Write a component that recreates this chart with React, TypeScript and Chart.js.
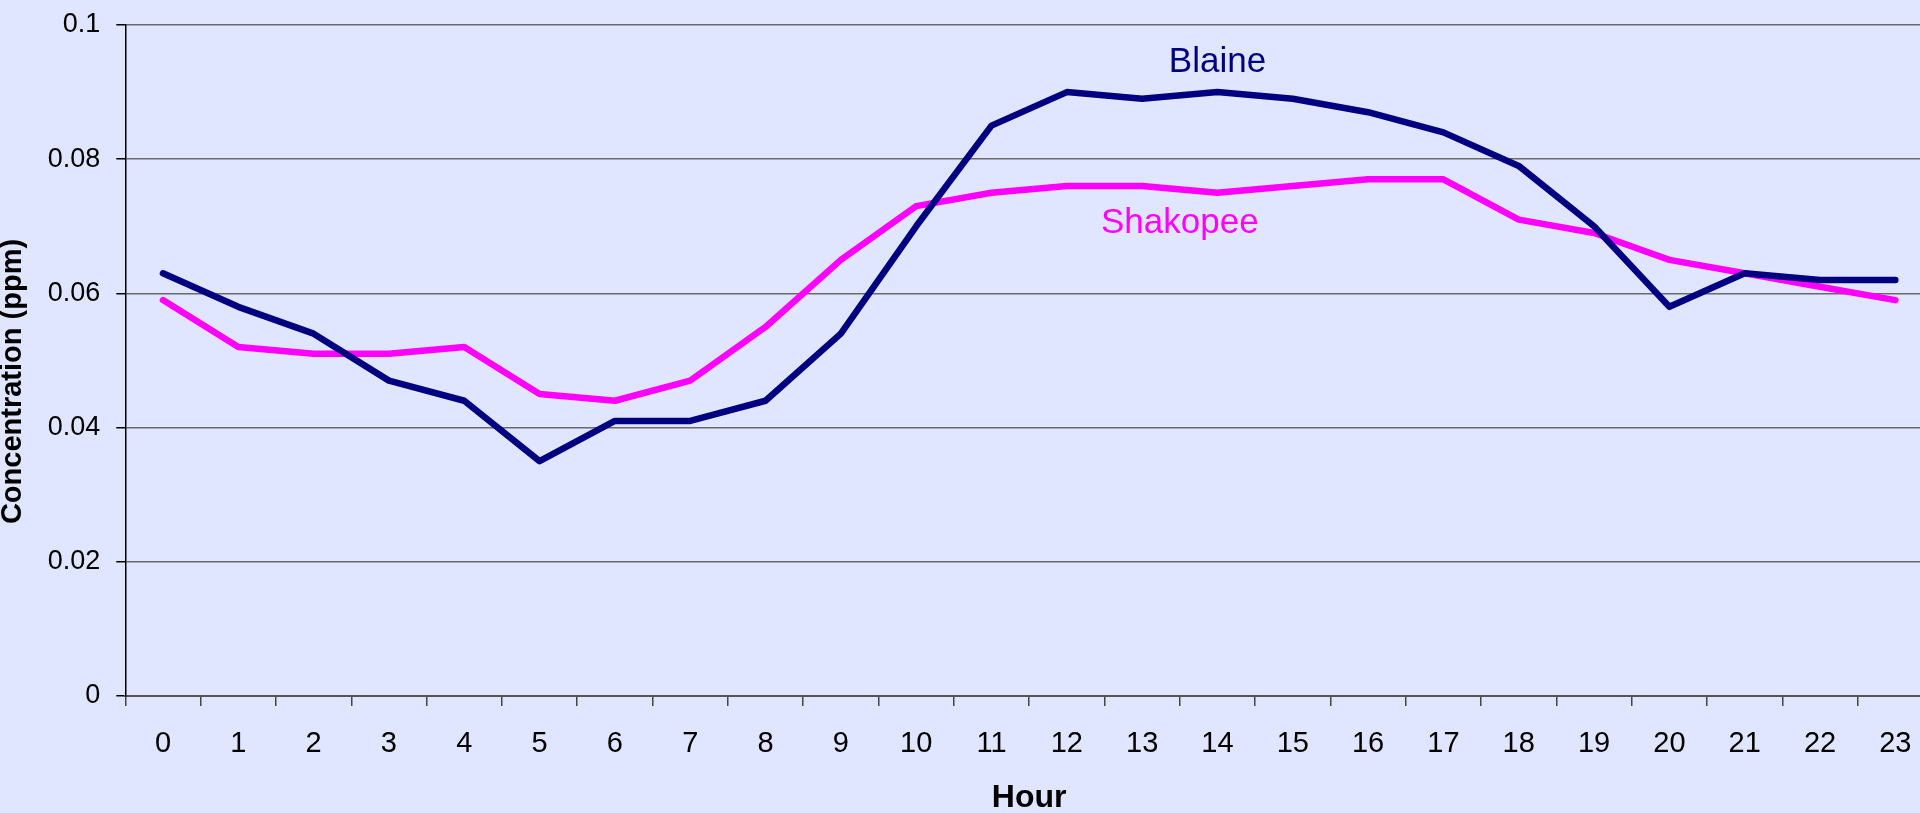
import React, { useEffect, useRef } from "react";
import { Chart, registerables } from "chart.js";

Chart.register(...registerables);

const hours: string[] = [
  "0", "1", "2", "3", "4", "5", "6", "7", "8", "9", "10", "11",
  "12", "13", "14", "15", "16", "17", "18", "19", "20", "21", "22", "23",
];

const blaine: number[] = [
  0.063, 0.058, 0.054, 0.047, 0.044, 0.035, 0.041, 0.041, 0.044, 0.054, 0.070, 0.085,
  0.090, 0.089, 0.090, 0.089, 0.087, 0.084, 0.079, 0.070, 0.058, 0.063, 0.062, 0.062,
];

const shakopee: number[] = [
  0.059, 0.052, 0.051, 0.051, 0.052, 0.045, 0.044, 0.047, 0.055, 0.065, 0.073, 0.075,
  0.076, 0.076, 0.075, 0.076, 0.077, 0.077, 0.071, 0.069, 0.065, 0.063, 0.061, 0.059,
];

const yTicks: number[] = [0, 0.02, 0.04, 0.06, 0.08, 0.1];

const seriesNames: string[] = ["Blaine", "Shakopee"];
const seriesColors: string[] = ["#000080", "#FF00FF"];
// label anchor positions, in data coordinates (category index, value at baseline)
const labelX: number[] = [14, 13.5];
const labelY: number[] = [0.093, 0.069];

const xTitle = "Hour";
const yTitle = "Concentration (ppm)";

const FONT = "'Liberation Sans', Arial, Helvetica, sans-serif";
const BG = "#E0E6FF";

const labelPlugin = {
  id: "seriesLabels",
  afterDatasetsDraw(chart: any) {
    const { ctx, scales } = chart;
    ctx.save();
    ctx.font = `35px ${FONT}`;
    ctx.textAlign = "center";
    ctx.textBaseline = "alphabetic";
    seriesNames.forEach((name, i) => {
      ctx.fillStyle = seriesColors[i];
      ctx.fillText(name, scales.x.getPixelForValue(labelX[i]), scales.y.getPixelForValue(labelY[i]));
    });
    ctx.restore();
  },
};

const axisTitlePlugin = {
  id: "axisTitles",
  afterDraw(chart: any) {
    const { ctx, chartArea } = chart;
    ctx.save();
    ctx.fillStyle = "#000";
    ctx.textAlign = "center";
    ctx.textBaseline = "alphabetic";
    // x title
    ctx.font = `bold 32px ${FONT}`;
    ctx.fillText(xTitle, (chartArea.left + chartArea.right) / 2, chartArea.bottom + 111);
    // y title
    ctx.font = `bold 29px ${FONT}`;
    ctx.translate(20.5, (chartArea.top + chartArea.bottom) / 2 + 21);
    ctx.rotate(-Math.PI / 2);
    ctx.fillText(yTitle, 0, 0);
    ctx.restore();
  },
};

const bgPlugin = {
  id: "bgFill",
  beforeDraw(chart: any) {
    const { ctx, width, height } = chart;
    ctx.save();
    ctx.fillStyle = BG;
    ctx.fillRect(0, 0, width, height);
    ctx.restore();
  },
};

export default function App() {
  const canvasRef = useRef<HTMLCanvasElement | null>(null);

  useEffect(() => {
    if (!canvasRef.current) return;
    const chart = new Chart(canvasRef.current, {
      type: "line",
      data: {
        labels: hours,
        datasets: [
          {
            label: seriesNames[0],
            data: blaine,
            borderColor: seriesColors[0],
            backgroundColor: seriesColors[0],
            borderWidth: 6.5,
            pointRadius: 0,
            tension: 0,
            borderCapStyle: "round",
            borderJoinStyle: "round",
          },
          {
            label: seriesNames[1],
            data: shakopee,
            borderColor: seriesColors[1],
            backgroundColor: seriesColors[1],
            borderWidth: 6.5,
            pointRadius: 0,
            tension: 0,
            borderCapStyle: "round",
            borderJoinStyle: "round",
          },
        ],
      },
      options: {
        animation: false,
        responsive: true,
        maintainAspectRatio: false,
        layout: { padding: { top: 25, right: 17, left: 0, bottom: 0 } },
        plugins: {
          legend: { display: false },
          tooltip: { enabled: false },
          title: { display: false },
        },
        scales: {
          x: {
            type: "category",
            offset: true,
            grid: {
              display: true,
              drawOnChartArea: false,
              offset: true,
              drawTicks: true,
              tickLength: 10,
              color: "#555",
              tickColor: "#444",
              lineWidth: 1.5,
            },
            border: { color: "#555", width: 2 },
            ticks: {
              font: { family: FONT, size: 29 },
              color: "#000",
              padding: 21,
              maxRotation: 0,
              autoSkip: false,
            },
            title: { display: false, text: xTitle },
            afterFit(scale: any) {
              scale.height = 117;
            },
          },
          y: {
            min: 0,
            max: 0.1,
            afterBuildTicks(scale: any) {
              scale.ticks = yTicks.map((v) => ({ value: v }));
            },
            grid: {
              color: "#6a6a6a",
              lineWidth: 1.5,
              tickLength: 9,
              tickColor: "#000",
            },
            border: { color: "#000", width: 1.5 },
            ticks: {
              font: { family: FONT, size: 27, lineHeight: 0.6 },
              color: "#000",
              padding: 16,
              callback: (v: any) => String(Number(Number(v).toFixed(2))),
            },
            title: { display: false, text: yTitle },
            afterFit(scale: any) {
              scale.width = 125.3;
            },
          },
        },
      },
      plugins: [bgPlugin, labelPlugin, axisTitlePlugin],
    });
    return () => chart.destroy();
  }, []);

  return (
    <div
      style={{
        position: "fixed",
        left: 0,
        top: 0,
        width: "100vw",
        height: "100vh",
        overflow: "hidden",
        background: BG,
      }}
    >
      <div style={{ position: "absolute", left: 0, top: 0, width: 1950, height: 813 }}>
        <canvas ref={canvasRef} />
      </div>
    </div>
  );
}
